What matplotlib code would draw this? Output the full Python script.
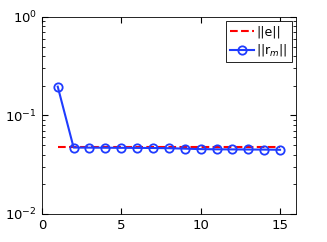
import matplotlib
matplotlib.use('Agg')
import matplotlib.pyplot as plt

# data
iters = list(range(1, 16))
err_norm = 0.0482
res_norm = [0.196, 0.0472, 0.0471, 0.0470, 0.0469, 0.0468, 0.0467, 0.0465,
            0.0460, 0.0455, 0.0453, 0.0452, 0.0451, 0.0450, 0.0448]

fig = plt.figure(figsize=(3.27, 2.42), dpi=100)
ax = fig.add_axes([0.128, 0.116, 0.777, 0.814])

ax.semilogy([iters[0], iters[-1]], [err_norm, err_norm], 'r--', lw=1.5, label='||e||')
ax.semilogy(iters, res_norm, 'o-', color='#1f3cff', lw=1.5, ms=6,
            mfc='none', mew=1.3, label='||r$_m$||')

ax.set_xlim(0, 16)
ax.set_ylim(1e-2, 1)
ax.set_xticks([0, 5, 10, 15])
ax.tick_params(which='both', direction='in', top=True, right=True, labelsize=9.5)
ax.tick_params(which='major', length=4)
ax.tick_params(which='minor', length=2)
for s in ax.spines.values():
    s.set_linewidth(0.6)

leg = ax.legend(loc='upper right', fontsize=9, fancybox=False, framealpha=1,
                edgecolor='black', handlelength=1.9, borderaxespad=0.35,
                borderpad=0.3, labelspacing=0.35, handletextpad=0.2)
leg.get_frame().set_linewidth(0.6)

fig.savefig('out.png', dpi=100)
